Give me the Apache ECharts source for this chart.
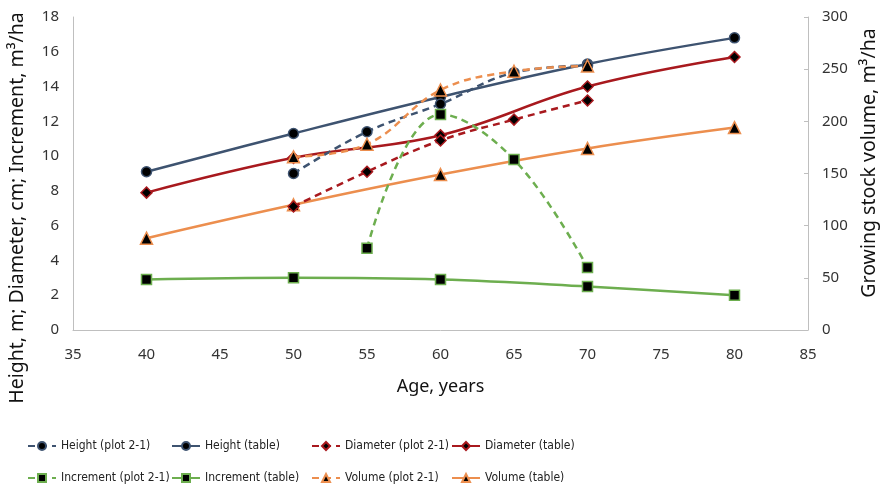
<!DOCTYPE html>
<html>
<head>
<meta charset="utf-8">
<script src="https://cdn.jsdelivr.net/npm/echarts@6/dist/echarts.min.js"></script>
<style>html,body{margin:0;padding:0;background:#fff;}#c{width:883px;height:486px;}</style>
</head>
<body>
<div id="c"></div>
<script>
const agesTable = [40, 50, 60, 70, 80];
const agesPlot = [50, 55, 60, 65, 70];
const agesIncrPlot = [55, 60, 65, 70];
const heightPlot = [9.0, 11.4, 13.0, 14.8, 15.2];
const heightTable = [9.1, 11.3, 13.4, 15.3, 16.8];
const diamPlot = [7.1, 9.1, 10.9, 12.1, 13.2];
const diamTable = [7.9, 9.9, 11.2, 14.0, 15.7];
const incrPlot = [4.7, 12.4, 9.8, 3.6];
const incrTable = [2.9, 3.0, 2.9, 2.5, 2.0];
const volPlot = [166, 178, 230, 248, 253];
const volTable = [88, 120, 149, 174, 194];
const xTicks = [35, 85, 5];
const yLeftTicks = [0, 18, 2];
const yRightTicks = [0, 300, 50];

const FONT = 'Noto Sans';
const LFONT = "'Liberation Sans Narrow', 'DejaVu Sans Condensed', 'Noto Sans'";
const C_H = '#3E5370', C_D = '#A8191E', C_I = '#6DAE4F', C_V = '#EC8E4E';
const pairs = (xs, ys) => xs.map((x, i) => [x, ys[i]]);

function mk(name, xs, ys, color, dashed, symbol, size, yIdx) {
  return {
    name, type: 'line', yAxisIndex: yIdx, data: pairs(xs, ys),
    smooth: 0.4, symbol, symbolSize: size,
    lineStyle: { color, width: 2.5, type: dashed ? [7, 5] : 'solid' },
    itemStyle: { color: '#000', borderColor: color, borderWidth: 1.5 },
    z: dashed ? 3 : 2
  };
}

const series = [
  mk('Height (plot 2-1)', agesPlot, heightPlot, C_H, true, 'circle', 10, 0),
  mk('Height (table)', agesTable, heightTable, C_H, false, 'circle', 10, 0),
  mk('Diameter (plot 2-1)', agesPlot, diamPlot, C_D, true, 'diamond', 11, 0),
  mk('Diameter (table)', agesTable, diamTable, C_D, false, 'diamond', 11, 0),
  mk('Increment (plot 2-1)', agesIncrPlot, incrPlot, C_I, true, 'rect', 10, 0),
  mk('Increment (table)', agesTable, incrTable, C_I, false, 'rect', 10, 0),
  mk('Volume (plot 2-1)', agesPlot, volPlot, C_V, true, 'triangle', 12, 1),
  mk('Volume (table)', agesTable, volTable, C_V, false, 'triangle', 12, 1)
];

const legLefts = [22, 166, 306, 446];
const legTops = [435, 467];
const legends = series.map((s, i) => ({
  data: [s.name],
  left: legLefts[i % 4], top: legTops[Math.floor(i / 4)],
  itemWidth: 28, itemHeight: 10,
  textStyle: { fontFamily: LFONT, fontSize: 12, color: '#222' },
  selectedMode: false
}));

const chart = echarts.init(document.getElementById('c'), null, { renderer: 'canvas' });
chart.setOption({
  animation: false,
  backgroundColor: '#fff',
  grid: { left: 73, right: 75, top: 17, bottom: 156 },
  legend: legends,
  xAxis: {
    type: 'value', min: xTicks[0], max: xTicks[1], interval: xTicks[2],
    name: 'Age, years', nameLocation: 'middle', nameGap: 48,
    nameTextStyle: { fontFamily: FONT, fontSize: 18, color: '#111' },
    axisLine: { lineStyle: { color: '#BFBFBF', width: 1 } },
    axisTick: { show: false },
    axisLabel: { fontFamily: FONT, fontSize: 15, color: '#333', margin: 17 },
    splitLine: { show: false }
  },
  yAxis: [
    {
      type: 'value', min: yLeftTicks[0], max: yLeftTicks[1], interval: yLeftTicks[2],
      axisLine: { show: true, lineStyle: { color: '#BFBFBF', width: 1 } },
      axisTick: { show: false },
      axisLabel: { fontFamily: FONT, fontSize: 15, color: '#333', margin: 14 },
      splitLine: { show: false }
    },
    {
      type: 'value', min: yRightTicks[0], max: yRightTicks[1], interval: yRightTicks[2],
      position: 'right',
      axisLine: { show: true, lineStyle: { color: '#BFBFBF', width: 1 } },
      axisTick: { show: true, inside: true, length: 4, lineStyle: { color: '#BFBFBF' } },
      axisLabel: { fontFamily: FONT, fontSize: 15, color: '#333', margin: 14 },
      splitLine: { show: false }
    }
  ],
  graphic: [
    {
      type: 'text', x: 17, y: 208, rotation: Math.PI / 2,
      style: { text: 'Height, m; Diameter, cm; Increment, m³/ha', fontFamily: FONT, fontSize: 19.5,
        fill: '#111', align: 'center', verticalAlign: 'middle' }
    },
    {
      type: 'text', x: 869, y: 163, rotation: Math.PI / 2,
      style: { text: 'Growing stock volume, m³/ha', fontFamily: FONT, fontSize: 19.5,
        fill: '#111', align: 'center', verticalAlign: 'middle' }
    }
  ],
  series
});
</script>
</body>
</html>
